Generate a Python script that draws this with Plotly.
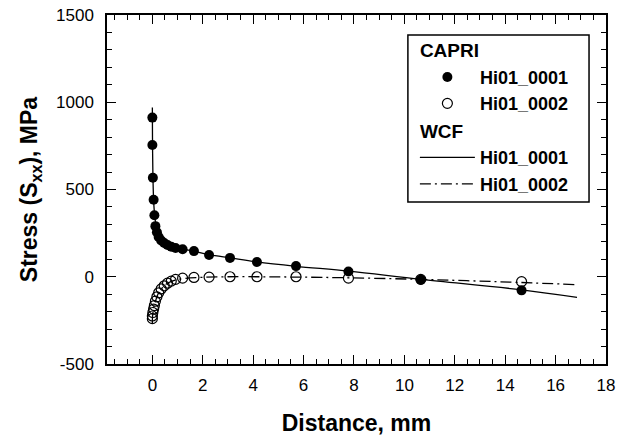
import plotly.graph_objects as go

# CAPRI measured points
capri_x = [0.0, 0.0, 0.02, 0.05, 0.08, 0.12, 0.18, 0.25, 0.35, 0.47, 0.6, 0.75, 0.92, 1.2, 1.65, 2.25, 3.08, 4.15, 5.7, 7.78, 10.65, 14.65]
capri_0001 = [912, 755, 567, 441, 352, 290, 255, 228, 208, 193, 182, 172, 165, 158, 147, 125, 108, 85, 61, 30, -17, -78]
capri_0002 = [-240, -225, -205, -185, -165, -140, -115, -92, -70, -52, -37, -25, -15, -8, -4, -2, 0, 0, 0, -8, -15, -28]

# WCF curves
wcf1_x = [0.0, 0.005, 0.02, 0.05, 0.1, 0.2, 0.35, 0.6, 1.0, 1.6, 2.25, 3.1, 4.15, 5.7, 7.8, 10.65, 14.65, 16.85]
wcf1_y = [970, 800, 600, 440, 340, 262, 218, 186, 164, 148, 127, 108, 85, 60, 32, -15, -75, -118]
wcf2_x = [0.0, 0.005, 0.03, 0.08, 0.15, 0.25, 0.4, 0.6, 0.9, 1.3, 2.0, 3.0, 4.2, 5.7, 7.8, 10.65, 14.65, 16.75]
wcf2_y = [-265, -232, -198, -162, -128, -92, -62, -37, -19, -9, -3, 0, 0, -2, -6, -15, -33, -45]

# tick labels
x_ticks = [0, 2, 4, 6, 8, 10, 12, 14, 16, 18]
x_labels = ["0", "2", "4", "6", "8", "10", "12", "14", "16", "18"]
y_ticks = [-500, 0, 500, 1000, 1500]
y_labels = ["-500", "0", "500", "1000", "1500"]

FONT = "Liberation Sans"

fig = go.Figure()
fig.add_trace(go.Scatter(
    x=capri_x, y=capri_0001, mode="markers", name="Hi01_0001",
    legendgroup="capri", legendgrouptitle=dict(text="CAPRI", font=dict(family=FONT, size=19, color="black", weight="bold")),
    marker=dict(symbol="circle", size=10, color="black")))
fig.add_trace(go.Scatter(
    x=capri_x, y=capri_0002, mode="markers", name="Hi01_0002",
    legendgroup="capri",
    marker=dict(symbol="circle-open", size=10, color="black", line=dict(width=1.2, color="black"))))
fig.add_trace(go.Scatter(
    x=wcf1_x, y=wcf1_y, mode="lines", name="Hi01_0001", line_shape="spline",
    legendgroup="wcf", legendgrouptitle=dict(text="WCF", font=dict(family=FONT, size=19, color="black", weight="bold")),
    line=dict(color="black", width=1.3)))
fig.add_trace(go.Scatter(
    x=wcf2_x, y=wcf2_y, mode="lines", name="Hi01_0002", line_shape="spline",
    legendgroup="wcf",
    line=dict(color="black", width=1.3, dash="11px,4px,2px,4px")))

axis_common = dict(
    showline=True, linecolor="black", linewidth=1.5, mirror="ticks",
    ticks="inside", ticklen=9, tickwidth=1.3, tickcolor="black",
    showgrid=False, zeroline=False, tickmode="array", automargin=False,
    tickfont=dict(family=FONT, size=17, color="black"),
)

fig.update_xaxes(
    range=[-1.8, 18], tickvals=x_ticks, ticktext=x_labels,
    minor=dict(ticks="inside", ticklen=5, dtick=0.5, tick0=0, tickwidth=1.2, tickcolor="black"),
    title=dict(text="Distance, mm", font=dict(family=FONT, size=23, color="black", weight="bold"), standoff=21),
    ticklabelstandoff=5,
    **axis_common)
fig.update_yaxes(
    range=[-500, 1500], tickvals=y_ticks, ticktext=y_labels,
    minor=dict(ticks="inside", ticklen=5, dtick=100, tick0=0, tickwidth=1.2, tickcolor="black"),
    title=dict(text="Stress (S<sub>xx</sub>), MPa", font=dict(family=FONT, size=23, color="black", weight="bold"), standoff=12),
    ticklabelstandoff=8,
    **axis_common)

# legend frame
fig.add_shape(type="rect", xref="paper", yref="paper",
              x0=0.603, x1=0.966, y0=0.464, y1=0.943,
              line=dict(color="black", width=1.5), fillcolor="white", layer="above")

fig.update_layout(
    width=619, height=440,
    margin=dict(l=107, r=13, t=15, b=76),
    paper_bgcolor="white", plot_bgcolor="white",
    showlegend=True,
    legend=dict(
        x=0.617, y=0.954, xanchor="left", yanchor="top",
        bgcolor="rgba(0,0,0,0)", borderwidth=0,
        font=dict(family=FONT, size=18, color="black", weight="bold"),
        itemwidth=55, tracegroupgap=0, traceorder="grouped",
    ),
)

fig.write_html("out.html")
